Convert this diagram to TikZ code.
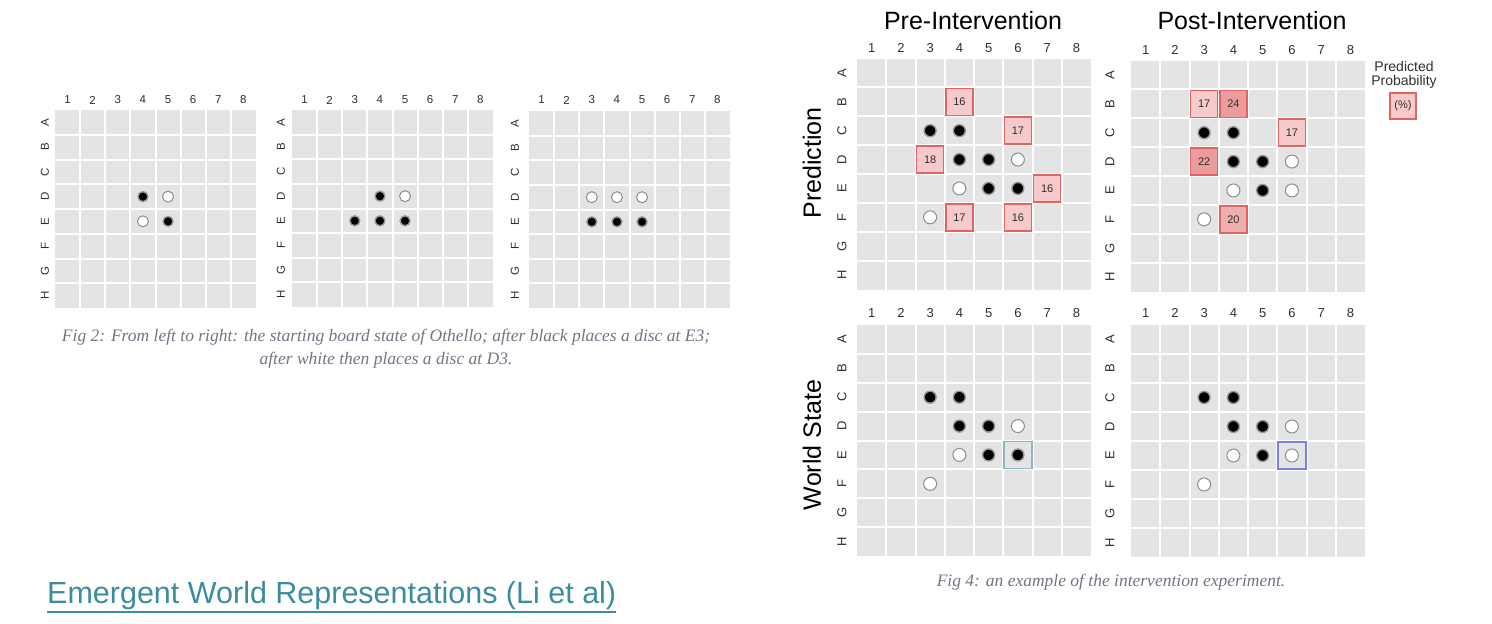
\documentclass[tikz,border=0pt]{standalone}
\usepackage{fontspec}
\setmainfont{Liberation Serif}
\newfontfamily\sansf{Liberation Sans}
\definecolor{cellgray}{HTML}{E4E4E4}
\definecolor{probred}{HTML}{E06464}
\definecolor{problight}{HTML}{F6CACA}
\definecolor{probmid}{HTML}{F0AFAF}
\definecolor{probdark}{HTML}{EC9C9C}
\definecolor{capgray}{HTML}{6E7684}
\definecolor{linkteal}{HTML}{3B8C9E}
\definecolor{hlteal}{HTML}{88B6C6}
\definecolor{hlblue}{HTML}{7E80E0}
\definecolor{numgray}{HTML}{2E2E2E}
\tikzset{
  gridline/.style={white, line width=2pt},
  lab/.style={inner sep=0pt, text=numgray},
  bdisc/.style={circle, fill=black, draw=black!40, line width=1.4pt, minimum size=#1, inner sep=0pt},
  wdisc/.style={circle, fill=white, draw=black!45, line width=1pt, minimum size=#1, inner sep=0pt},
  probbox/.style={rectangle, draw=probred, line width=1.5pt, minimum width=27pt, minimum height=27pt, inner sep=0pt, text=numgray, font=\sansf\fontsize{11}{11}\selectfont},
  hlbox/.style={rectangle, draw=#1, line width=1.3pt, minimum width=28pt, minimum height=27pt, inner sep=0pt},
  bigtitle/.style={inner sep=0pt, font=\sansf\fontsize{25}{25}\selectfont},
  caption/.style={inner sep=0pt, text=capgray, font=\itshape\fontsize{17.5}{23}\selectfont}
}
% #1 name, #2 x0, #3 y0, #4 w, #5 h, #6 row label x, #7 col label y, #8 font size
\newcommand{\oboard}[8]{%
  \fill[cellgray] (#2,#3) rectangle ++(#4,#5);
  \foreach \i in {1,...,7}{
    \draw[gridline] ({#2+\i*#4/8},#3) -- ++(0,#5);
    \draw[gridline] (#2,{#3+\i*#5/8}) -- ++(#4,0);
  }
  \foreach \c in {1,...,8}{
    \node[lab, font=\sansf\fontsize{#8}{#8}\selectfont] (#1-c\c) at ({#2+(\c-0.5)*#4/8},#7) {\c};
  }
  \foreach \r/\l in {1/A,2/B,3/C,4/D,5/E,6/F,7/G,8/H}{
    \node[lab, rotate=90, font=\sansf\fontsize{#8}{#8}\selectfont] (#1-r\l) at (#6,{#3+(\r-0.5)*#5/8}) {\l};
    \foreach \c in {1,...,8}{
      \coordinate (#1-\l\c) at ({#2+(\c-0.5)*#4/8},{#3+(\r-0.5)*#5/8});
    }
  }
}
\begin{document}
\begin{tikzpicture}[x=1pt, y=-1pt]
\useasboundingbox (0,0) rectangle (1492,624);

% ---------- left: Fig 2 ----------
\oboard{la}{55}{110}{201}{198}{45}{100}{11.5}
\oboard{lb}{292}{110}{201}{197}{281}{100}{11.5}
\oboard{lc}{529}{111}{201}{197}{515}{100}{11.5}

\node[bdisc=10pt] (la-p1) at (la-D4) {};
\node[wdisc=11pt] (la-p2) at (la-D5) {};
\node[wdisc=11pt] (la-p3) at (la-E4) {};
\node[bdisc=10pt] (la-p4) at (la-E5) {};

\node[bdisc=10pt] (lb-p1) at (lb-D4) {};
\node[wdisc=11pt] (lb-p2) at (lb-D5) {};
\node[bdisc=10pt] (lb-p3) at (lb-E3) {};
\node[bdisc=10pt] (lb-p4) at (lb-E4) {};
\node[bdisc=10pt] (lb-p5) at (lb-E5) {};

\node[wdisc=11pt] (lc-p1) at (lc-D3) {};
\node[wdisc=11pt] (lc-p2) at (lc-D4) {};
\node[wdisc=11pt] (lc-p3) at (lc-D5) {};
\node[bdisc=10pt] (lc-p4) at (lc-E3) {};
\node[bdisc=10pt] (lc-p5) at (lc-E4) {};
\node[bdisc=10pt] (lc-p6) at (lc-E5) {};

\node[caption, align=center] (cap2) at (386,349) {Fig 2: From left to right: the starting board state of Othello; after black places a disc at E3;\\after white then places a disc at D3.};

\node[inner sep=0pt, anchor=west, text=linkteal, font=\sansf\fontsize{30.5}{30.5}\selectfont] (link) at (47,596) {Emergent World Representations (Li et al)};
\draw[linkteal, line width=2pt] ([yshift=-2pt]link.south west) -- ([yshift=-2pt]link.south east);

% ---------- right: Fig 4 ----------
\node[bigtitle] (tpre) at (973,20.5) {Pre-Intervention};
\node[bigtitle] (tpost) at (1252,20.5) {Post-Intervention};
\node[bigtitle, rotate=90] (tpred) at (812,163) {Prediction};
\node[bigtitle, rotate=90] (tworld) at (812,445) {World State};

\oboard{pre}{857}{58.5}{234}{231}{842}{48}{13}
\oboard{post}{1131}{60.5}{234}{231}{1110}{50}{13}
\oboard{wpre}{857}{325}{234}{231}{842}{313}{13}
\oboard{wpost}{1131}{325}{234}{232}{1110}{313}{13}

% pre prediction
\node[probbox, fill=problight] (pre-b1) at (pre-B4) {16};
\node[bdisc=12pt] (pre-p1) at (pre-C3) {};
\node[bdisc=12pt] (pre-p2) at (pre-C4) {};
\node[probbox, fill=problight] (pre-b2) at (pre-C6) {17};
\node[probbox, fill=problight] (pre-b3) at (pre-D3) {18};
\node[bdisc=12pt] (pre-p3) at (pre-D4) {};
\node[bdisc=12pt] (pre-p4) at (pre-D5) {};
\node[wdisc=13pt] (pre-p5) at (pre-D6) {};
\node[wdisc=13pt] (pre-p6) at (pre-E4) {};
\node[bdisc=12pt] (pre-p7) at (pre-E5) {};
\node[bdisc=12pt] (pre-p8) at (pre-E6) {};
\node[probbox, fill=problight] (pre-b4) at (pre-E7) {16};
\node[wdisc=13pt] (pre-p9) at (pre-F3) {};
\node[probbox, fill=problight] (pre-b5) at (pre-F4) {17};
\node[probbox, fill=problight] (pre-b6) at (pre-F6) {16};

% post prediction
\node[probbox, fill=problight] (post-b1) at (post-B3) {17};
\node[probbox, fill=probdark] (post-b2) at (post-B4) {24};
\node[bdisc=12pt] (post-p1) at (post-C3) {};
\node[bdisc=12pt] (post-p2) at (post-C4) {};
\node[probbox, fill=problight] (post-b3) at (post-C6) {17};
\node[probbox, fill=probdark] (post-b4) at (post-D3) {22};
\node[bdisc=12pt] (post-p3) at (post-D4) {};
\node[bdisc=12pt] (post-p4) at (post-D5) {};
\node[wdisc=13pt] (post-p5) at (post-D6) {};
\node[wdisc=13pt] (post-p6) at (post-E4) {};
\node[bdisc=12pt] (post-p7) at (post-E5) {};
\node[wdisc=13pt] (post-p8) at (post-E6) {};
\node[wdisc=13pt] (post-p9) at (post-F3) {};
\node[probbox, fill=probmid] (post-b5) at (post-F4) {20};

% legend
\node[inner sep=0pt, align=center, font=\sansf\fontsize{14}{14}\selectfont, text=numgray] (legt) at (1404,75) {Predicted\\Probability};
\node[probbox, fill=problight, minimum width=26pt, minimum height=26pt] (legb) at (1403,106) {(\%)};

% world state pre
\node[bdisc=12pt] (wpre-p1) at (wpre-C3) {};
\node[bdisc=12pt] (wpre-p2) at (wpre-C4) {};
\node[bdisc=12pt] (wpre-p3) at (wpre-D4) {};
\node[bdisc=12pt] (wpre-p4) at (wpre-D5) {};
\node[wdisc=13pt] (wpre-p5) at (wpre-D6) {};
\node[wdisc=13pt] (wpre-p6) at (wpre-E4) {};
\node[bdisc=12pt] (wpre-p7) at (wpre-E5) {};
\node[hlbox=hlteal] (wpre-h) at (wpre-E6) {};
\node[bdisc=12pt] (wpre-p8) at (wpre-E6) {};
\node[wdisc=13pt] (wpre-p9) at (wpre-F3) {};

% world state post
\node[bdisc=12pt] (wpost-p1) at (wpost-C3) {};
\node[bdisc=12pt] (wpost-p2) at (wpost-C4) {};
\node[bdisc=12pt] (wpost-p3) at (wpost-D4) {};
\node[bdisc=12pt] (wpost-p4) at (wpost-D5) {};
\node[wdisc=13pt] (wpost-p5) at (wpost-D6) {};
\node[wdisc=13pt] (wpost-p6) at (wpost-E4) {};
\node[bdisc=12pt] (wpost-p7) at (wpost-E5) {};
\node[hlbox=hlblue] (wpost-h) at (wpost-E6) {};
\node[wdisc=13pt] (wpost-p8) at (wpost-E6) {};
\node[wdisc=13pt] (wpost-p9) at (wpost-F3) {};

\node[caption, font=\itshape\fontsize{17.5}{20}\selectfont] (cap4) at (1111,582) {Fig 4: an example of the intervention experiment.};
\end{tikzpicture}
\end{document}
